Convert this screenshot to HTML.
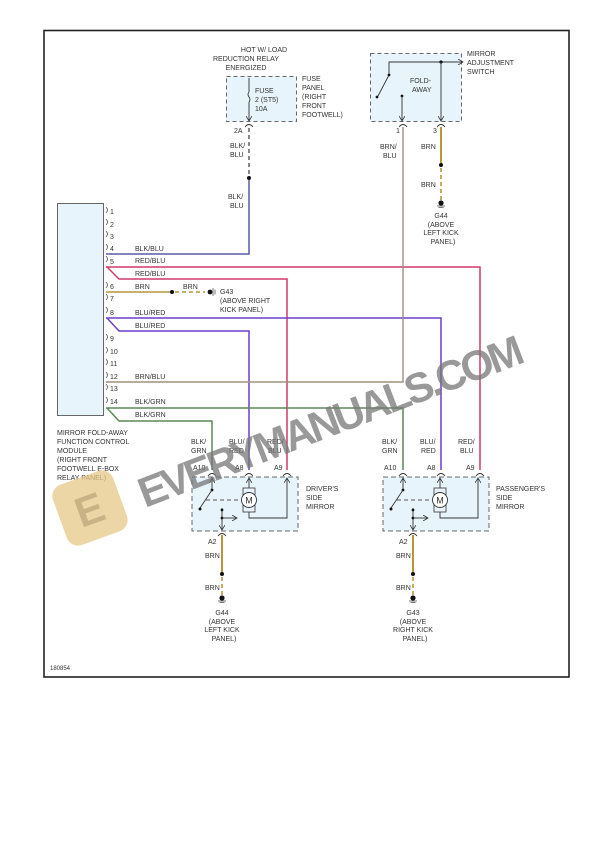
<!DOCTYPE html>
<html><head><meta charset="utf-8"><style>
html,body{margin:0;padding:0;background:#fff;}
svg{display:block;}
text{font-family:"Liberation Sans",sans-serif;font-size:7px;fill:#333;}
</style></head><body>
<svg width="612" height="866" viewBox="0 0 612 866" xmlns="http://www.w3.org/2000/svg">
<defs>
<marker id="ar" markerWidth="6" markerHeight="6" refX="5" refY="3" orient="auto" markerUnits="userSpaceOnUse"><path d="M0,0 L5,3 L0,6" fill="none" stroke="#333" stroke-width="0.8"/></marker>
<g id="gnd"><circle cx="0" cy="0" r="2.6" fill="#111"/><line x1="-4" y1="3" x2="4" y2="3" stroke="#555" stroke-width="0.8"/><line x1="-2.5" y1="4.5" x2="2.5" y2="4.5" stroke="#555" stroke-width="0.8"/></g>
<g id="conn"><path d="M-4,2 Q0,-3 4,2" fill="none" stroke="#333" stroke-width="0.9"/></g>
<g id="mirror">
<rect x="0" y="0" width="106" height="54" fill="#e8f4fb" stroke="#666" stroke-width="1" stroke-dasharray="5,3"/>
<line x1="20" y1="14" x2="20" y2="1" stroke="#333" stroke-width="0.9" marker-end="url(#ar)"/>
<circle cx="20" cy="13" r="1.4" fill="#111"/>
<line x1="20" y1="13" x2="8" y2="31" stroke="#333" stroke-width="0.9"/>
<circle cx="8" cy="32" r="1.5" fill="#111"/>
<line x1="14" y1="23" x2="49" y2="23" stroke="#555" stroke-width="0.9" stroke-dasharray="4,3"/>
<line x1="57" y1="11" x2="57" y2="1" stroke="#333" stroke-width="0.9" marker-end="url(#ar)"/>
<rect x="51" y="11" width="12" height="24" fill="#e8f4fb" stroke="#333" stroke-width="0.8"/>
<circle cx="57" cy="23" r="7.5" fill="#fff" stroke="#333" stroke-width="0.9"/>
<text x="53.3" y="26.5" style="font-size:9px">M</text>
<polyline points="57,35 57,41 95,41 95,1" fill="none" stroke="#333" stroke-width="0.9" marker-end="url(#ar)"/>
<line x1="30" y1="31" x2="30" y2="53" stroke="#333" stroke-width="0.9" marker-end="url(#ar)"/>
<circle cx="30" cy="33" r="1.4" fill="#111"/>
<circle cx="30" cy="41" r="1.4" fill="#111"/>
<line x1="30" y1="41" x2="45" y2="41" stroke="#333" stroke-width="0.9" marker-end="url(#ar)"/>
</g>
</defs>

<rect x="44" y="30.5" width="525" height="646.5" fill="#fff" stroke="#222" stroke-width="1.6"/>

<!-- Fuse panel -->
<text x="264" y="52" text-anchor="middle">HOT W/ LOAD</text>
<text x="246" y="61" text-anchor="middle">REDUCTION RELAY</text>
<text x="246" y="70" text-anchor="middle">ENERGIZED</text>
<rect x="226.5" y="76.5" width="70" height="45" fill="#e8f4fb" stroke="#666" stroke-width="1" stroke-dasharray="4,3"/>
<line x1="249" y1="78" x2="249" y2="92" stroke="#333" stroke-width="0.9"/>
<path d="M249,92 q-2,2.5 0,5 q2,2.5 0,5" fill="none" stroke="#333" stroke-width="0.9"/>
<line x1="249" y1="102" x2="249" y2="121" stroke="#333" stroke-width="0.9" marker-end="url(#ar)"/>
<text x="255" y="93">FUSE</text><text x="255" y="102">2 (ST5)</text><text x="255" y="111">10A</text>
<text x="302" y="81">FUSE</text><text x="302" y="90">PANEL</text><text x="302" y="99">(RIGHT</text><text x="302" y="108">FRONT</text><text x="302" y="117">FOOTWELL)</text>
<use href="#conn" x="249" y="125"/>
<text x="234" y="133">2A</text>
<line x1="249" y1="128" x2="249" y2="177" stroke="#555" stroke-width="1.4" stroke-dasharray="4,3"/>
<text x="230" y="148">BLK/</text><text x="230" y="157">BLU</text>
<circle cx="249" cy="178" r="2" fill="#111"/>
<text x="228" y="199">BLK/</text><text x="230" y="208">BLU</text>

<!-- Switch -->
<rect x="370.5" y="53.5" width="91" height="68" fill="#e8f4fb" stroke="#666" stroke-width="1" stroke-dasharray="4,3"/>
<polyline points="389,75 389,62 463,62" fill="none" stroke="#333" stroke-width="0.9" marker-end="url(#ar)"/>
<circle cx="389" cy="75" r="1.4" fill="#111"/>
<line x1="389" y1="75" x2="378" y2="96" stroke="#333" stroke-width="0.9"/>
<circle cx="377" cy="97" r="1.4" fill="#111"/>
<circle cx="441" cy="62" r="1.6" fill="#111"/>
<line x1="441" y1="62" x2="441" y2="121" stroke="#333" stroke-width="0.9" marker-end="url(#ar)"/>
<circle cx="402" cy="96" r="1.4" fill="#111"/>
<line x1="402" y1="96" x2="402" y2="121" stroke="#333" stroke-width="0.9" marker-end="url(#ar)"/>
<text x="410" y="83">FOLD-</text><text x="412" y="92">AWAY</text>
<text x="467" y="56">MIRROR</text><text x="467" y="65">ADJUSTMENT</text><text x="467" y="74">SWITCH</text>
<use href="#conn" x="403" y="125"/><use href="#conn" x="441" y="125"/>
<text x="396" y="133">1</text><text x="433" y="133">3</text>
<text x="380" y="149">BRN/</text><text x="383" y="158">BLU</text>
<line x1="441" y1="127" x2="441" y2="164" stroke="#b8973a" stroke-width="2"/>
<text x="421" y="149">BRN</text>
<circle cx="441" cy="165" r="2" fill="#111"/>
<line x1="441" y1="168" x2="441" y2="200" stroke="#b8973a" stroke-width="1.6" stroke-dasharray="4,3"/>
<text x="421" y="187">BRN</text>
<use href="#gnd" x="441" y="203"/>
<text x="441" y="218" text-anchor="middle">G44</text><text x="441" y="227" text-anchor="middle">(ABOVE</text><text x="441" y="235" text-anchor="middle">LEFT KICK</text><text x="443" y="244" text-anchor="middle">PANEL)</text>

<!-- Module -->
<rect x="57.5" y="203.5" width="46" height="212" fill="#e8f4fb" stroke="#666" stroke-width="1"/>
<g fill="none" stroke="#555" stroke-width="0.8">
<path d="M106,207 q3,3 0,6"/><path d="M106,219 q3,3 0,6"/><path d="M106,231 q3,3 0,6"/><path d="M106,244 q3,3 0,6"/><path d="M106,256 q3,3 0,6"/><path d="M106,282 q3,3 0,6"/><path d="M106,294 q3,3 0,6"/><path d="M106,307 q3,3 0,6"/><path d="M106,334 q3,3 0,6"/><path d="M106,347 q3,3 0,6"/><path d="M106,359 q3,3 0,6"/><path d="M106,372 q3,3 0,6"/><path d="M106,384 q3,3 0,6"/><path d="M106,397 q3,3 0,6"/>
</g>
<text x="110" y="214">1</text><text x="110" y="227">2</text><text x="110" y="239">3</text><text x="110" y="251">4</text><text x="110" y="264">5</text><text x="110" y="289">6</text><text x="110" y="301">7</text><text x="110" y="315">8</text><text x="110" y="341">9</text><text x="110" y="354">10</text><text x="110" y="366">11</text><text x="110" y="379">12</text><text x="110" y="391">13</text><text x="110" y="404">14</text>
<text x="135" y="251">BLK/BLU</text><text x="135" y="263">RED/BLU</text><text x="135" y="276">RED/BLU</text><text x="135" y="289">BRN</text><text x="135" y="315">BLU/RED</text><text x="135" y="328">BLU/RED</text><text x="135" y="379">BRN/BLU</text><text x="135" y="404">BLK/GRN</text><text x="135" y="417">BLK/GRN</text>
<text x="57" y="435">MIRROR FOLD-AWAY</text><text x="57" y="444">FUNCTION CONTROL</text><text x="57" y="453">MODULE</text><text x="57" y="462">(RIGHT FRONT</text><text x="57" y="471">FOOTWELL E-BOX</text><text x="57" y="480">RELAY PANEL)</text>

<!-- Wires -->
<polyline points="106,254 249,254 249,180" fill="none" stroke="#5a5aa8" stroke-width="1.5"/>
<polyline points="106,267 480,267 480,470" fill="none" stroke="#d23a6a" stroke-width="1.5"/>
<polyline points="107,267 119,279 287,279 287,470" fill="none" stroke="#d23a6a" stroke-width="1.5"/>
<line x1="106" y1="292" x2="171" y2="292" stroke="#b8973a" stroke-width="1.6"/>
<circle cx="172" cy="292" r="2" fill="#111"/>
<line x1="175" y1="292" x2="205" y2="292" stroke="#b8973a" stroke-width="1.5" stroke-dasharray="4,3"/>
<circle cx="210" cy="292" r="2.4" fill="#111"/><line x1="213" y1="288" x2="213" y2="296" stroke="#555" stroke-width="0.8"/><line x1="215" y1="289.5" x2="215" y2="294.5" stroke="#555" stroke-width="0.8"/>
<text x="183" y="289">BRN</text>
<text x="220" y="294">G43</text><text x="220" y="303">(ABOVE RIGHT</text><text x="220" y="312">KICK PANEL)</text>
<polyline points="106,318 441,318 441,470" fill="none" stroke="#6a3fd0" stroke-width="1.5"/>
<polyline points="107,318 119,331 249,331 249,470" fill="none" stroke="#6a3fd0" stroke-width="1.5"/>
<polyline points="106,382 403,382 403,127" fill="none" stroke="#a09080" stroke-width="1.4"/>
<polyline points="106,408 403,408 403,470" fill="none" stroke="#5a8a5a" stroke-width="1.5"/>
<polyline points="107,408 119,421 212,421 212,470" fill="none" stroke="#5a8a5a" stroke-width="1.5"/>

<!-- Driver mirror -->
<use href="#mirror" x="192" y="477"/>
<use href="#conn" x="212" y="474"/><use href="#conn" x="249" y="474"/><use href="#conn" x="287" y="474"/>
<text x="191" y="444">BLK/</text><text x="191" y="453">GRN</text>
<text x="229" y="444">BLU/</text><text x="229" y="453">RED</text>
<text x="267" y="444">RED/</text><text x="268" y="453">BLU</text>
<text x="193" y="470">A10</text><text x="235" y="470">A8</text><text x="274" y="470">A9</text>
<text x="306" y="491">DRIVER'S</text><text x="306" y="500">SIDE</text><text x="306" y="509">MIRROR</text>
<use href="#conn" x="222" y="534"/>
<text x="208" y="544">A2</text>
<line x1="222" y1="535" x2="222" y2="573" stroke="#b8973a" stroke-width="2"/>
<text x="205" y="558">BRN</text>
<circle cx="222" cy="574" r="2" fill="#111"/>
<line x1="222" y1="577" x2="222" y2="595" stroke="#b8973a" stroke-width="1.6" stroke-dasharray="4,3"/>
<text x="205" y="590">BRN</text>
<use href="#gnd" x="222" y="598"/>
<text x="222" y="615" text-anchor="middle">G44</text><text x="222" y="624" text-anchor="middle">(ABOVE</text><text x="222" y="632" text-anchor="middle">LEFT KICK</text><text x="224" y="641" text-anchor="middle">PANEL)</text>

<!-- Passenger mirror -->
<use href="#mirror" x="383" y="477"/>
<use href="#conn" x="403" y="474"/><use href="#conn" x="441" y="474"/><use href="#conn" x="480" y="474"/>
<text x="382" y="444">BLK/</text><text x="382" y="453">GRN</text>
<text x="420" y="444">BLU/</text><text x="421" y="453">RED</text>
<text x="458" y="444">RED/</text><text x="460" y="453">BLU</text>
<text x="384" y="470">A10</text><text x="427" y="470">A8</text><text x="466" y="470">A9</text>
<text x="496" y="491">PASSENGER'S</text><text x="496" y="500">SIDE</text><text x="496" y="509">MIRROR</text>
<use href="#conn" x="413" y="534"/>
<text x="399" y="544">A2</text>
<line x1="413" y1="535" x2="413" y2="573" stroke="#b8973a" stroke-width="2"/>
<text x="396" y="558">BRN</text>
<circle cx="413" cy="574" r="2" fill="#111"/>
<line x1="413" y1="577" x2="413" y2="595" stroke="#b8973a" stroke-width="1.6" stroke-dasharray="4,3"/>
<text x="396" y="590">BRN</text>
<use href="#gnd" x="413" y="598"/>
<text x="413" y="615" text-anchor="middle">G43</text><text x="413" y="624" text-anchor="middle">(ABOVE</text><text x="413" y="632" text-anchor="middle">RIGHT KICK</text><text x="415" y="641" text-anchor="middle">PANEL)</text>

<text x="50" y="670" style="font-size:6px">180854</text>

<!-- Watermark -->
<g opacity="0.75">
<rect x="58" y="476" width="64" height="64" rx="12" fill="#e8c987" transform="rotate(-20 90 508)"/>
<text x="75" y="524" style="font-size:42px;font-weight:bold;fill:#b89a5e" transform="rotate(-20 90 508)">E</text>
<text x="145" y="508" style="font-size:42px;font-weight:bold;fill:#777;letter-spacing:1px" transform="rotate(-21 145 508)" textLength="410">EVERYMANUALS.COM</text>
</g>
</svg>
</body></html>
